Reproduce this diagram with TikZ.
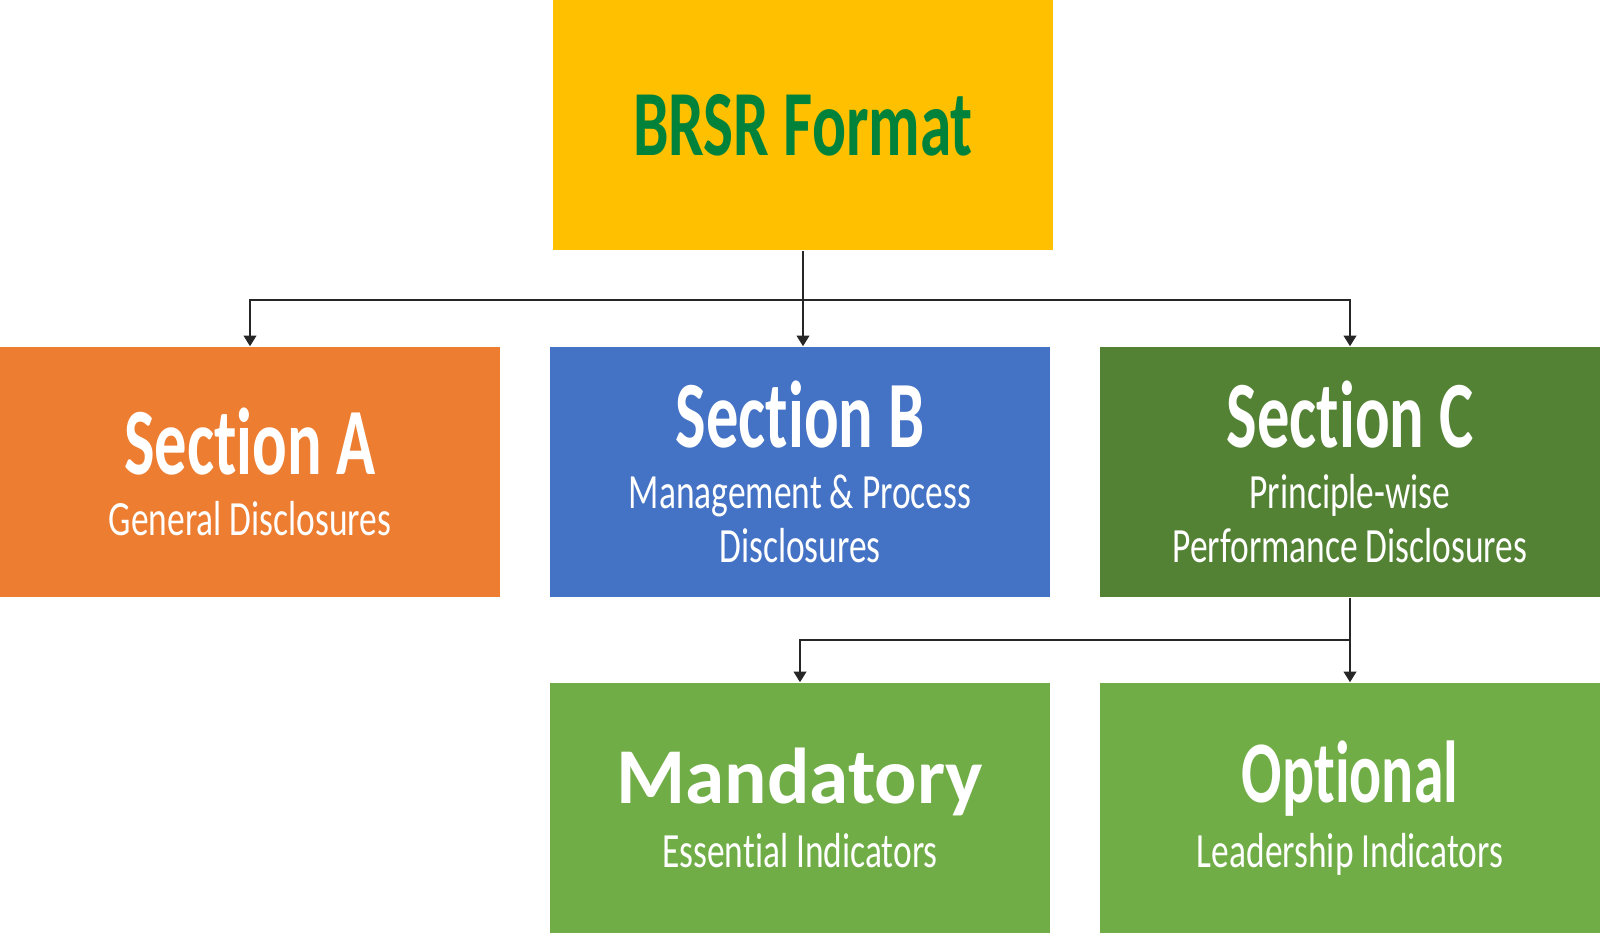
\documentclass[tikz,border=0pt]{standalone}
\usepackage{fontspec}
\setmainfont[Ligatures=NoCommon]{Carlito}
\newfontfamily\agency[FakeStretch=0.68,Ligatures=NoCommon]{Carlito}
\newfontfamily\agencysub[FakeStretch=0.72,Ligatures=NoCommon]{Carlito}
\usetikzlibrary{arrows.meta}
\definecolor{brsrYellow}{HTML}{FFC000}
\definecolor{brsrGreen}{HTML}{00823B}
\definecolor{secAorange}{HTML}{ED7D31}
\definecolor{secBblue}{HTML}{4472C4}
\definecolor{secCgreen}{HTML}{548235}
\definecolor{indGreen}{HTML}{70AD47}

\begin{document}
\begin{tikzpicture}[x=0.01cm,y=-0.01cm]
\tikzset{box/.style={minimum width=5cm, minimum height=2.5cm, inner sep=0pt, align=center, text=white, font=\agencysub\fontsize{14}{15.3}\selectfont},
  con/.style={draw=black!85, line width=0.45pt},
  tip/.style={-{Triangle[width=3.6pt,length=3pt]}}}
\useasboundingbox (0,0) rectangle (1600,934);

\node[box, fill=brsrYellow, text=brsrGreen] (brsr) at (803,125) {{\agency\bfseries\fontsize{26.5}{26.5}\selectfont BRSR Format}};

\node[box, fill=secAorange] (secA) at (250,472) {{\agency\bfseries\fontsize{27}{27}\selectfont Section A}\\[2pt]General Disclosures};
\node[box, fill=secBblue] (secB) at (800,472) {{\agency\bfseries\fontsize{27}{27}\selectfont Section B}\\[2pt]Management \& Process\\Disclosures};
\node[box, fill=secCgreen] (secC) at (1350,472) {{\agency\bfseries\fontsize{27}{27}\selectfont Section C}\\[2pt]Principle-wise\\Performance Disclosures};

\node[box, fill=indGreen] (mand) at (800,808) {{\normalfont\bfseries\fontsize{22.5}{22.5}\selectfont Mandatory}\\[3pt]Essential Indicators};
\node[box, fill=indGreen] (opt) at (1350,808) {{\agency\bfseries\fontsize{25}{25}\selectfont Optional}\\[3pt]Leadership Indicators};

% connectors
\coordinate (split) at (803,300);
\coordinate (splitC) at (1350,640);
\draw[con] (brsr.south) -- (split);
\draw[con,tip] (split) -| (secA.north);
\draw[con,tip] (split) -- (split |- secB.north);
\draw[con,tip] (split) -| (secC.north);
\draw[con] (secC.south) -- (splitC);
\draw[con,tip] (splitC) -| (mand.north);
\draw[con,tip] (splitC) -- (opt.north);
\end{tikzpicture}
\end{document}
